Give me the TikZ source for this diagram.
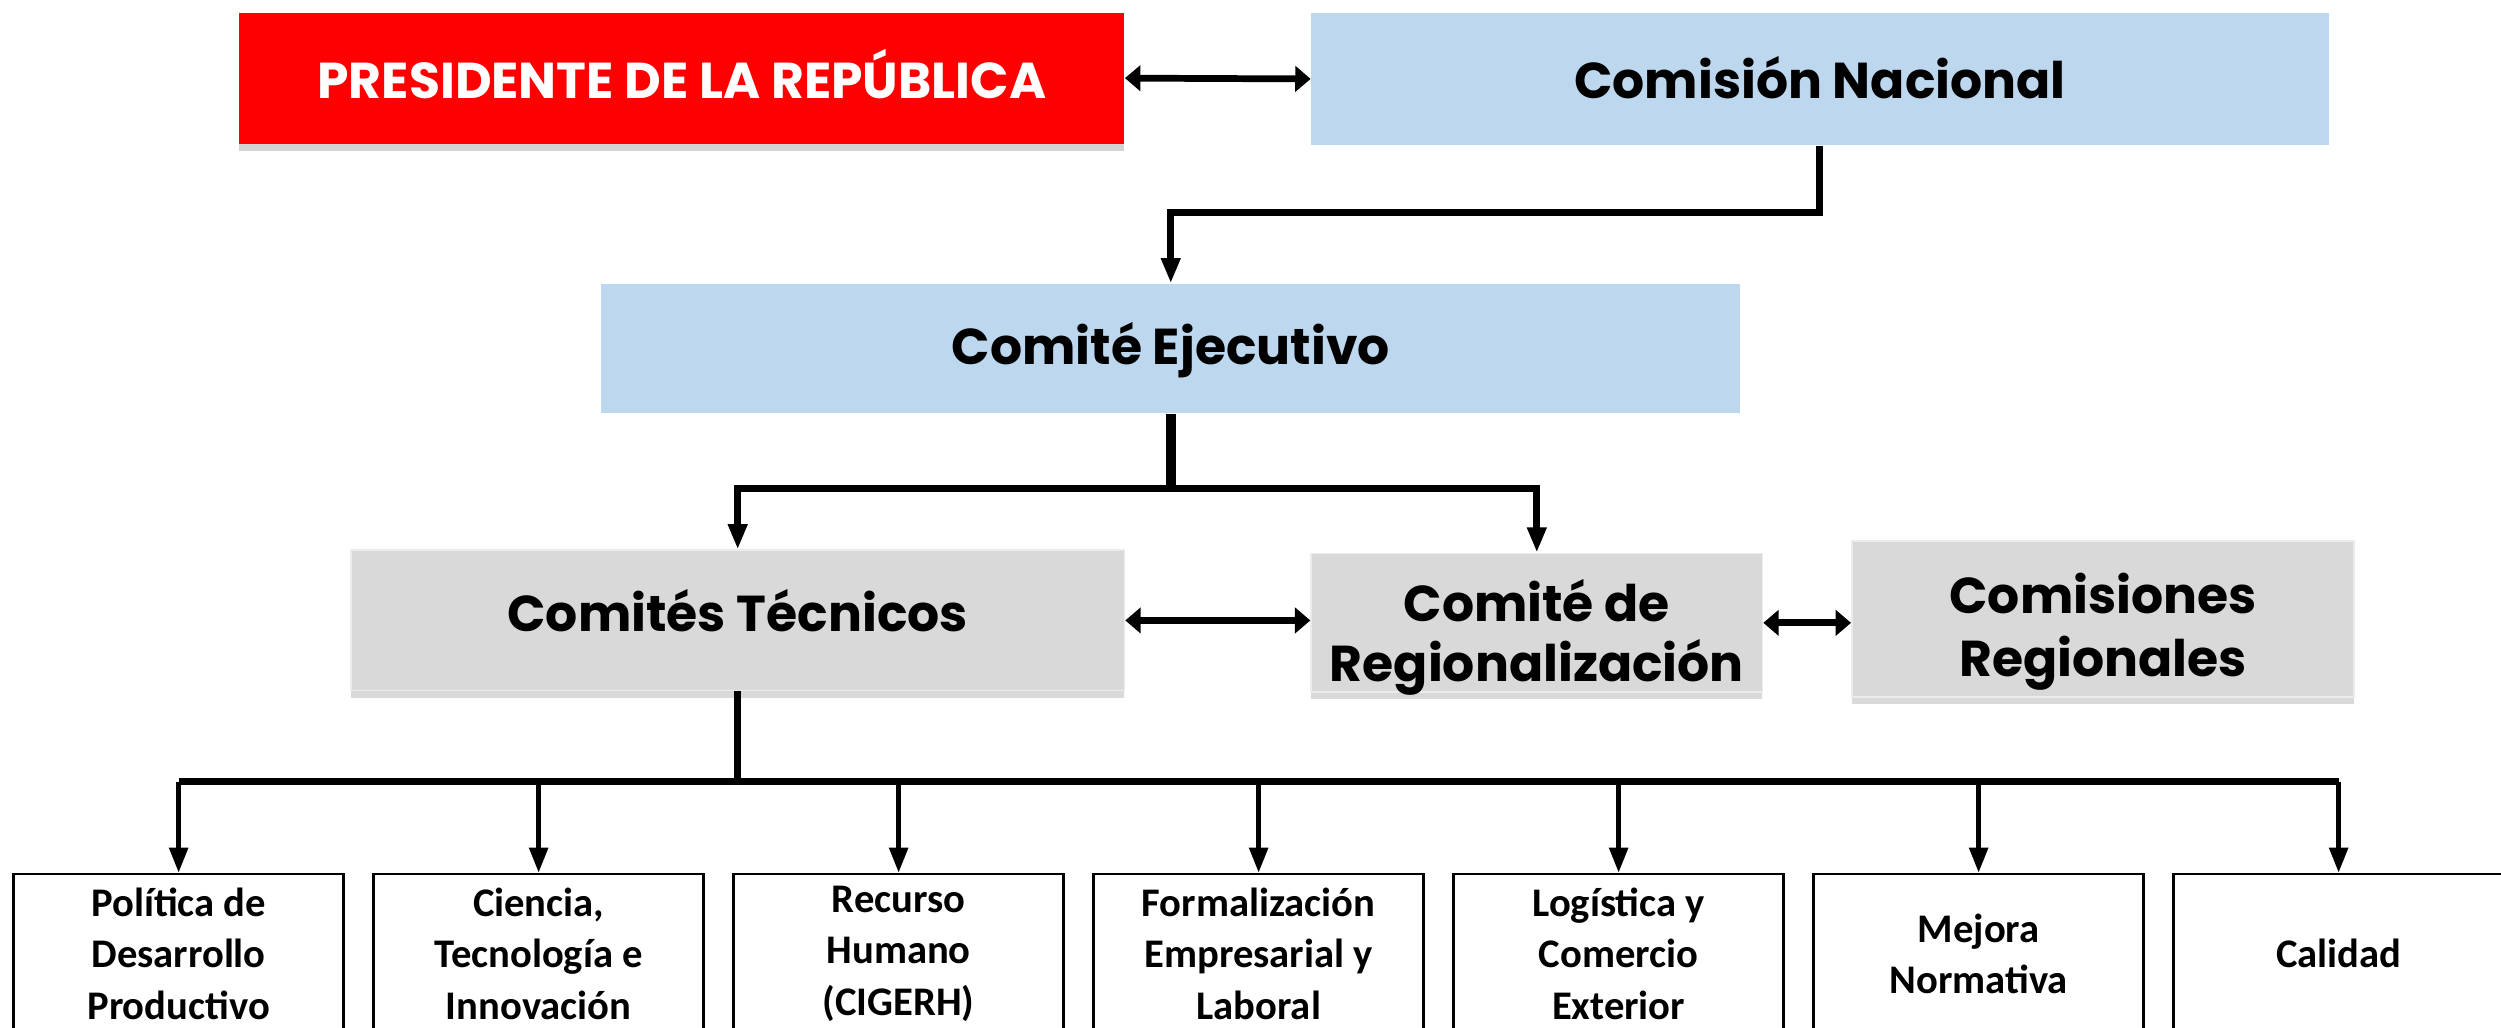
\documentclass[tikz,border=0pt]{standalone}
\usepackage{fontspec}
\setmainfont{Poppins}
\newfontfamily\calibri{Carlito}
\usetikzlibrary{arrows.meta}
\usetikzlibrary{shadows}
\definecolor{rojo}{HTML}{FE0000}
\definecolor{celeste}{HTML}{BDD7EE}
\definecolor{grisclaro}{HTML}{D9D9D9}
% baja la linea base del texto respecto al centro de la caja
\newcommand{\texto}[2]{\raisebox{#1}[0pt][0pt]{\begin{tabular}[b]{@{}c@{}}#2\end{tabular}}}

\begin{document}
\begin{tikzpicture}[x = .02cm, y = .02cm,
    caja/.style = {rectangle, inner sep = 0pt, align = center,
                   font = \bfseries\fontsize{18}{21}\selectfont},
    azul/.style = {caja, fill = celeste},
    roja/.style = {caja, fill = rojo, text = white,
                   drop shadow = {shadow xshift = 0pt, shadow yshift = -2.5pt, opacity = .35}},
    comite/.style = {caja, fill = grisclaro, draw = white!92!black, line width = .6pt,
                     drop shadow = {shadow xshift = 0pt, shadow yshift = -2.5pt, opacity = .3}},
    area/.style = {rectangle, draw, line width = .9pt, inner sep = 0pt, align = center,
                   minimum width = 4.14cm, minimum height = 2cm,
                   font = \calibri\bfseries\fontsize{14.5}{18.4}\selectfont},
    linea/.style = {line width = 2.5pt},
    flecha/.style = {linea, -{Triangle[length = 9pt, width = 6.5pt]}},
    doble/.style = {line width = 2.4pt, {Triangle[length = 5.5pt, width = 9pt]}-{Triangle[length = 5.5pt, width = 9pt]}}]

  \useasboundingbox (0,0) rectangle (1568,644);

  % niveles superiores
  \node[roja, minimum width = 11.1cm, minimum height = 1.64cm] (pres) at (427.5,595) {\texto{-7.2pt}{PRESIDENTE DE LA REPÚBLICA}};
  \node[azul, minimum width = 12.76cm, minimum height = 1.66cm] (cn) at (1141,594.5) {\texto{-7pt}{Comisión Nacional}};
  \node[azul, minimum width = 14.28cm, minimum height = 1.62cm] (ce) at (734,425.5) {\texto{-5.6pt}{Comité Ejecutivo}};

  \node[comite, minimum width = 9.7cm, minimum height = 1.76cm] (ct) at (462.5,255) {\texto{-4pt}{Comités Técnicos}};
  \node[comite, minimum width = 5.66cm, minimum height = 1.74cm] (cr) at (963.5,253.5) {\texto{-21pt}{Comité de\\Regionalización}};
  \node[comite, minimum width = 6.3cm, minimum height = 1.96cm, font = \bfseries\fontsize{18}{22.6}\selectfont] (cor) at (1318.5,256) {\texto{-20.6pt}{Comisiones\\Regionales}};

  % comites tecnicos
  \foreach \i/\t in {1/{Política de\\Desarrollo\\Productivo},
                     2/{Ciencia,\\Tecnología e\\Innovación},
                     3/{Recurso\\Humano\\(CIGERH)},
                     4/{Formalización\\Empresarial y\\Laboral},
                     5/{Logística y\\Comercio\\Exterior},
                     6/{Mejora\\Normativa},
                     7/{Calidad}}
    \node[area] (b\i) at ({112 + 225.7*(\i-1)},46) {\t};

  \coordinate (bus) at (0,154);

  % conectores
  \draw[doble] (pres.east) -- (cn.west);
  \draw[flecha] (cn.south) -- ++(0,-42) -| (ce.north);
  \draw[linea, line width = 3.4pt] (ce.south) -- ++(0,-47) coordinate (rama);
  \draw[flecha] (rama) -| (ct.north);
  \draw[flecha] (rama) -| (cr.north);
  \draw[doble] (ct.east) -- (ct.east -| cr.west);
  \draw[doble] (cr.east) -- (cr.east -| cor.west);
  \draw[linea] (ct.south) -- (ct.south |- bus);
  \draw[linea] (b1.north |- bus) -- (b7.north |- bus);
  \foreach \i in {1,...,7}
    \draw[flecha, line width = 1.8pt] (b\i.north |- bus) -- (b\i.north);
\end{tikzpicture}
\end{document}
